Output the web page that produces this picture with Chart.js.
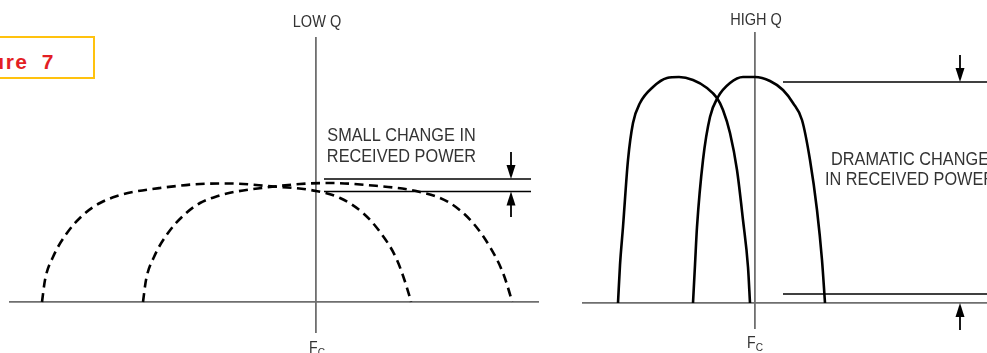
<!DOCTYPE html>
<html>
<head>
<meta charset="utf-8">
<script src="https://cdn.jsdelivr.net/npm/chart.js@4.4.1/dist/chart.umd.min.js"></script>
<style>
  body { margin: 0; background: #fff; width: 987px; height: 353px; overflow: hidden; position: relative; }
  canvas { position: absolute; top: 0; }
  #lowQ { left: 0; }
  #highQ { left: 560px; }
  #figBox { position: absolute; left: -70px; top: 36px; width: 161px; height: 39px; border: 2px solid #ffc20e; }
  #figBox span { position: absolute; right: 38px; top: 12px; line-height: 20px; font: bold 21px "Liberation Sans", Arial, sans-serif; color: #e31e24; letter-spacing: 1.5px; word-spacing: 6px; white-space: nowrap; }
</style>
</head>
<body>
<div id="figBox"><span>Figure 7</span></div>
<canvas id="lowQ" width="560" height="353"></canvas>
<canvas id="highQ" width="427" height="353"></canvas>
<script>
// frequency offset from Fc and received amplitude, both in arbitrary units

// LOW Q (dashed): filter tuned below Fc, and one tuned slightly above
const lowQLeftX = [-2.74, -2.71, -2.63, -2.49, -2.33, -2.16, -1.99, -1.83, -1.56, -1.16, -0.86, -0.49, 0, 0.24, 0.47, 0.64, 0.81, 0.94, 0.95];
const lowQLeftY = [0, 0.22, 0.45, 0.69, 0.87, 0.99, 1.06, 1.10, 1.14, 1.18, 1.185, 1.16, 1.11, 1.04, 0.89, 0.70, 0.42, 0.04, 0];
const lowQRightX = [-1.73, -1.70, -1.62, -1.48, -1.32, -1.16, -0.98, -0.82, -0.54, -0.16, 0.14, 0.51, 1.04, 1.34, 1.57, 1.74, 1.87, 1.95, 1.96];
const lowQRightY = [0, 0.22, 0.45, 0.69, 0.87, 0.99, 1.06, 1.10, 1.14, 1.18, 1.19, 1.17, 1.10, 0.99, 0.79, 0.55, 0.29, 0.04, 0];

// HIGH Q (solid)
const highQLeftX = [-1.37, -1.35, -1.32, -1.27, -1.22, -1.15, -1.02, -0.88, -0.76, -0.62, -0.48, -0.38, -0.32, -0.25, -0.18, -0.12, -0.07, -0.05];
const highQLeftY = [0, 0.38, 0.76, 1.43, 1.80, 2.00, 2.16, 2.25, 2.26, 2.23, 2.15, 2.05, 1.93, 1.70, 1.33, 0.83, 0.36, 0];
const highQRightX = [-0.62, -0.60, -0.58, -0.52, -0.45, -0.37, -0.25, -0.12, 0, 0.15, 0.28, 0.38, 0.47, 0.55, 0.62, 0.67, 0.70];
const highQRightY = [0, 0.38, 0.76, 1.43, 1.86, 2.06, 2.20, 2.26, 2.26, 2.22, 2.13, 2.00, 1.83, 1.43, 0.93, 0.43, 0];

// reference levels and the span they are drawn over
const lowQLevels = [1.23, 1.105];
const lowQLevelSpan = [0.08, 2.15];
const highQLevels = [2.21, 0.09];
const highQLevelSpan = [0.28, 2.32];

// arrows: x, from, to
const lowQArrows = [[1.95, 1.50, 1.23], [1.95, 0.85, 1.105]];
const highQArrows = [[2.05, 2.48, 2.21], [2.05, -0.27, 0]];

// text: label, x, baseline y, size
const lowQTexts = [["LOW Q", 0.01, 2.75, 16.5], ["SMALL CHANGE IN", 0.855, 1.61, 18.5], ["RECEIVED POWER", 0.855, 1.40, 18.5]];
const highQTexts = [["HIGH Q", 0.01, 2.78, 16.5], ["DRAMATIC CHANGE", 1.55, 1.38, 18.5], ["IN RECEIVED POWER", 1.55, 1.18, 18.5]];
const lowQFc = [0.01, -0.51];
const highQFc = [0.0, -0.45];

const FONT = '"Liberation Sans", Arial, sans-serif';
const SQUEEZE = 0.88;
const AXIS_GREY = "#6f6f6f";
const TEXT_GREY = "#333";

const toPoints = (xs, ys) => xs.map((x, i) => ({ x: x, y: ys[i] }));

const curve = (xs, ys, dashed) => ({
  data: toPoints(xs, ys),
  borderColor: "#000",
  borderWidth: 2.6,
  borderDash: dashed ? [9, 5.5] : [],
  pointRadius: 0,
  cubicInterpolationMode: "monotone",
  fill: false,
  clip: false,
});

const level = (y, span) => ({
  data: [{ x: span[0], y: y }, { x: span[1], y: y }],
  borderColor: "#000",
  borderWidth: 1.3,
  pointRadius: 0,
  fill: false,
  clip: false,
});

const marks = {
  id: "marks",
  afterDatasetsDraw(chart, args, opts) {
    const ctx = chart.ctx;
    const xs = chart.scales.x;
    const ys = chart.scales.y;
    ctx.save();

    opts.arrows.forEach(([ax, from, to]) => {
      const px = xs.getPixelForValue(ax);
      const p0 = ys.getPixelForValue(from);
      const p1 = ys.getPixelForValue(to);
      const dir = Math.sign(p1 - p0);
      ctx.strokeStyle = "#000";
      ctx.lineWidth = 1.8;
      ctx.beginPath();
      ctx.moveTo(px, p0);
      ctx.lineTo(px, p1 - dir * 10);
      ctx.stroke();
      ctx.fillStyle = "#000";
      ctx.beginPath();
      ctx.moveTo(px, p1);
      ctx.lineTo(px - 4.5, p1 - dir * 14);
      ctx.lineTo(px + 4.5, p1 - dir * 14);
      ctx.closePath();
      ctx.fill();
    });

    ctx.fillStyle = TEXT_GREY;
    ctx.textBaseline = "alphabetic";
    opts.texts.forEach(([label, tx, ty, size]) => {
      ctx.save();
      ctx.translate(xs.getPixelForValue(tx), ys.getPixelForValue(ty));
      ctx.scale(SQUEEZE, 1);
      ctx.font = size + "px " + FONT;
      ctx.textAlign = "center";
      ctx.fillText(label, 0, 0);
      ctx.restore();
    });

    // F with subscript C under the centre line
    const fx = xs.getPixelForValue(opts.fc[0]);
    const fy = ys.getPixelForValue(opts.fc[1]);
    ctx.textAlign = "left";
    ctx.font = "16px " + FONT;
    const wF = ctx.measureText("F").width * SQUEEZE;
    ctx.font = "11.5px " + FONT;
    const wC = ctx.measureText("C").width * SQUEEZE;
    const start = fx - (wF + wC) / 2;
    ctx.save();
    ctx.translate(start, fy);
    ctx.scale(SQUEEZE, 1);
    ctx.font = "16px " + FONT;
    ctx.fillText("F", 0, 0);
    ctx.restore();
    ctx.save();
    ctx.translate(start + wF, fy + 3);
    ctx.scale(SQUEEZE, 1);
    ctx.font = "11.5px " + FONT;
    ctx.fillText("C", 0, 0);
    ctx.restore();

    ctx.restore();
  },
};

const makePanel = (canvasId, datasets, xRange, yRange, padding, arrows, texts, fc) => {
  const ctx = document.getElementById(canvasId).getContext("2d");
  const axisLine = { display: true, color: AXIS_GREY, width: 1.8 };
  return new Chart(ctx, {
    type: "line",
    data: { datasets: datasets },
    plugins: [marks],
    options: {
      responsive: false,
      animation: false,
      devicePixelRatio: 1,
      events: [],
      layout: { padding: padding },
      scales: {
        x: {
          type: "linear",
          min: xRange[0],
          max: xRange[1],
          position: { y: 0 },
          grid: { display: false },
          border: axisLine,
          ticks: { display: false },
        },
        y: {
          type: "linear",
          min: yRange[0],
          max: yRange[1],
          position: { x: 0 },
          grid: { display: false },
          border: axisLine,
          ticks: { display: false },
        },
      },
      plugins: {
        legend: { display: false },
        tooltip: { enabled: false },
        marks: { arrows: arrows, texts: texts, fc: fc },
      },
    },
  });
};

makePanel(
  "lowQ",
  [
    curve(lowQLeftX, lowQLeftY, true),
    curve(lowQRightX, lowQRightY, true),
    ...lowQLevels.map((v) => level(v, lowQLevelSpan)),
  ],
  [-3.06, 2.22],
  [-0.30, 2.64],
  { left: 10, right: 22, top: 38, bottom: 21 },
  lowQArrows,
  lowQTexts,
  lowQFc
);

makePanel(
  "highQ",
  [
    curve(highQLeftX, highQLeftY, false),
    curve(highQRightX, highQRightY, false),
    ...highQLevels.map((v) => level(v, highQLevelSpan)),
  ],
  [-1.72, 2.32],
  [-0.25, 2.70],
  { left: 23, right: 0, top: 33, bottom: 25 },
  highQArrows,
  highQTexts,
  highQFc
);
</script>
</body>
</html>
